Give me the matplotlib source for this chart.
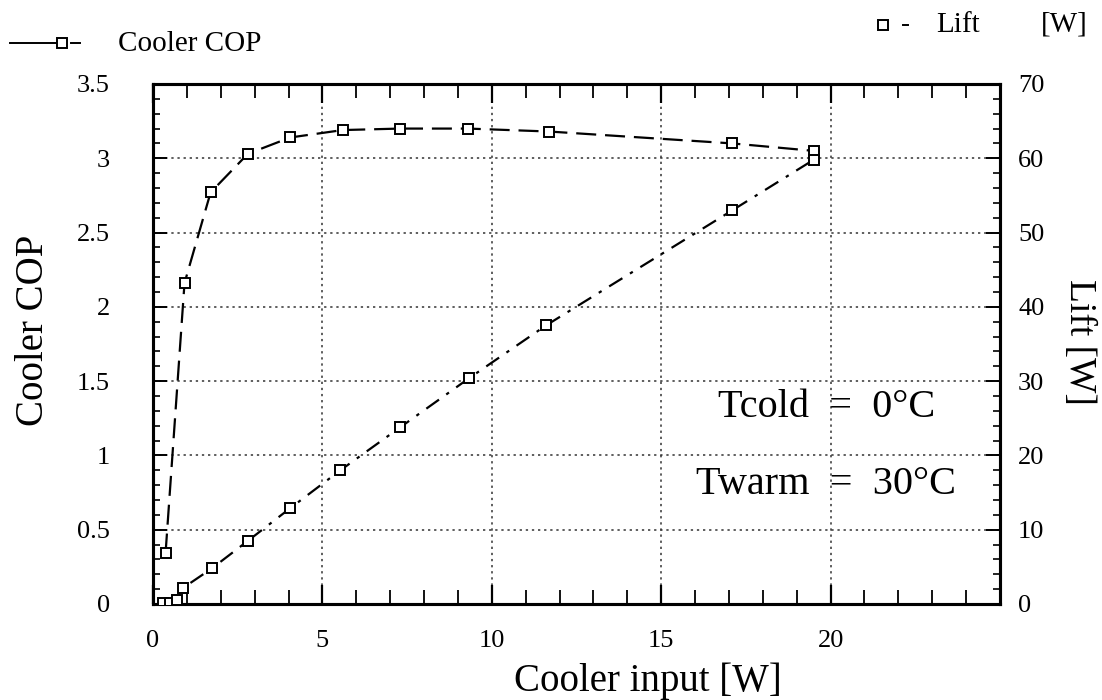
import matplotlib
matplotlib.use("Agg")
import matplotlib.pyplot as plt
from matplotlib.ticker import MultipleLocator
from matplotlib.lines import Line2D

plt.rcParams['font.family'] = ['Liberation Serif', 'DejaVu Serif']

# Cooler performance data
cop_input = [0.37, 0.93, 1.7, 2.8, 4.05, 5.6, 7.3, 9.3, 11.7, 17.1, 19.5]
cop_values = [0.34, 2.16, 2.77, 3.03, 3.14, 3.19, 3.20, 3.20, 3.18, 3.10, 3.05]

lift_input = [0.3, 0.5, 0.7, 0.9, 1.74, 2.8, 4.05, 5.53, 7.3, 9.33, 11.6, 17.1, 19.5]
lift_values = [0.2, 0.2, 0.5, 2.2, 4.8, 8.5, 12.9, 18.0, 23.8, 30.4, 37.5, 53.0, 59.8]

x_ticks = [0, 5, 10, 15, 20]
cop_ticks = [0, 0.5, 1, 1.5, 2, 2.5, 3, 3.5]
cop_tick_labels = ['0', '0.5', '1', '1.5', '2', '2.5', '3', '3.5']
lift_ticks = [0, 10, 20, 30, 40, 50, 60, 70]

W, H = 1102, 700
fig = plt.figure(figsize=(W / 100, H / 100), dpi=100)
ax = fig.add_axes([153 / W, 1 - 604 / H, 847 / W, 520 / H])
ax2 = ax.twinx()

marker_style = dict(marker='s', ms=7, mfc='white', mec='black', mew=1.4)
ax.plot(cop_input, cop_values, color='black', lw=1.6, dashes=(9, 4),
        zorder=3, **marker_style)
ax2.plot(lift_input, lift_values, color='black', lw=1.6, dashes=(7, 4, 1.5, 4),
         zorder=3, **marker_style)

ax.set_xlim(0, 25)
ax.set_ylim(0, 3.5)
ax2.set_ylim(0, 70)

ax.set_xticks(x_ticks)
ax.set_xticklabels([str(t) for t in x_ticks])
ax.set_yticks(cop_ticks)
ax.set_yticklabels(cop_tick_labels)
ax2.set_yticks(lift_ticks)
ax2.set_yticklabels([str(t) for t in lift_ticks])

ax.xaxis.set_minor_locator(MultipleLocator(1))
ax.yaxis.set_minor_locator(MultipleLocator(0.1))
ax2.yaxis.set_minor_locator(MultipleLocator(2))

ax.tick_params(axis='x', which='both', direction='in', top=True, labelsize=19, pad=19)
ax.tick_params(axis='x', which='major', length=14, width=1.6)
ax.tick_params(axis='x', which='minor', length=10, width=1.3)
ax.tick_params(axis='y', which='both', direction='in', labelsize=19, pad=31)
ax.tick_params(axis='y', which='major', length=10, width=1.4)
ax.tick_params(axis='y', which='minor', length=5, width=1.2)
ax2.tick_params(axis='y', which='both', direction='in', labelsize=19, pad=13)
ax2.tick_params(axis='y', which='major', length=10, width=1.4)
ax2.tick_params(axis='y', which='minor', length=5, width=1.2)

ax.grid(True, which='major', linestyle=(0, (1.5, 2.5)), color='#333333', lw=1.1)

for spine in list(ax.spines.values()) + list(ax2.spines.values()):
    spine.set_linewidth(2.2)

ax.set_xlabel('Cooler input [W]', fontsize=28)
ax.xaxis.set_label_coords(0.584, -0.112)
ax.set_ylabel('Cooler COP', fontsize=28)
ax.yaxis.set_label_coords(-0.119, 0.527)
ax2.set_ylabel('Lift [W]', fontsize=27, rotation=270, va='bottom')
ax2.yaxis.set_label_coords(1.073, 0.504)

ax.text(0.795, 0.377, 'Tcold  =  0°C', transform=ax.transAxes, fontsize=29,
        ha='center', va='center')
ax.text(0.795, 0.229, 'Twarm  =  30°C', transform=ax.transAxes, fontsize=29,
        ha='center', va='center')

# Legend keys drawn in figure pixel space
px = fig.transFigure
def fx(v):
    return v / W
def fy(v):
    return 1 - v / H

fig.add_artist(Line2D([fx(10), fx(57)], [fy(43), fy(43)], color='black', lw=1.4,
                      transform=px))
fig.add_artist(Line2D([fx(62)], [fy(43)], color='black', transform=px,
                      marker='s', ms=7, mfc='white', mec='black', mew=1.4))
fig.add_artist(Line2D([fx(71), fx(80)], [fy(43), fy(43)], color='black', lw=1.4,
                      transform=px))
fig.text(fx(118), fy(44), 'Cooler COP', fontsize=21, ha='left', va='center')

fig.add_artist(Line2D([fx(883)], [fy(25)], color='black', transform=px,
                      marker='s', ms=7, mfc='white', mec='black', mew=1.4))
fig.add_artist(Line2D([fx(903), fx(908)], [fy(25), fy(25)], color='black', lw=1.4,
                      transform=px))
fig.text(fx(936), fy(25), 'Lift', fontsize=21, ha='left', va='center')
fig.text(fx(1088), fy(25), '[W]', fontsize=21, ha='right', va='center')

fig.savefig('out.png', dpi=100, facecolor='white')
